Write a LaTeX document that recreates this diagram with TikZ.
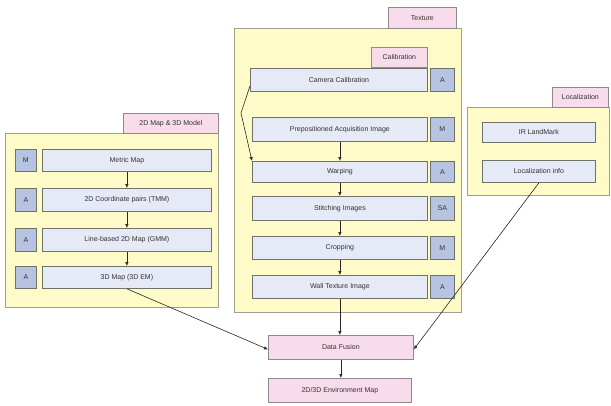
\documentclass[tikz,border=0pt]{standalone}
\usepackage{fontspec}
\setmainfont{Liberation Sans}
\usetikzlibrary{arrows.meta}
\definecolor{grp}{HTML}{FFFBC8}
\definecolor{grpline}{HTML}{A0A090}
\definecolor{ttl}{HTML}{F8DCEC}
\definecolor{ttlline}{HTML}{908890}
\definecolor{proc}{HTML}{E6EAF6}
\definecolor{procline}{HTML}{6E7268}
\definecolor{tag}{HTML}{B6C4E2}
\begin{document}
\begin{tikzpicture}[x=1pt,y=-1pt,
  font=\fontsize{7}{8}\selectfont,
  group/.style={draw=grpline,fill=grp,line width=0.9pt},
  titlebox/.style={draw=ttlline,fill=ttl,line width=0.8pt,anchor=north west,inner sep=0pt,align=center,text=black!80},
  procbox/.style={draw=procline,fill=proc,line width=0.8pt,anchor=north west,inner sep=0pt,align=center,text=black!80},
  tagbox/.style={draw=procline,fill=tag,line width=0.8pt,anchor=north west,inner sep=0pt,align=center,text=black!80},
  arr/.style={-{Latex[length=4pt,width=3.5pt]},line width=0.6pt,draw=black!85}]
\useasboundingbox (0,0) rectangle (611,405);
\fill[white] (0,0) rectangle (611,405);

% groups
\draw[group] (5,133) rectangle (218,307);
\draw[group] (234,28) rectangle (461,312);
\draw[group] (467,107) rectangle (609,195);

% titles
\node[titlebox,minimum width=95pt,minimum height=20pt] (t2d) at (123,113) {2D Map \& 3D Model};
\node[titlebox,minimum width=68pt,minimum height=21pt] (ttex) at (388,7) {Texture};
\node[titlebox,minimum width=56pt,minimum height=20pt] (tcal) at (371,47) {Calibration};
\node[titlebox,minimum width=56pt,minimum height=20pt] (tloc) at (552,87) {Localization};

% left group
\node[tagbox,minimum width=21pt,minimum height=22pt] (m1) at (15,149) {M};
\node[procbox,minimum width=169pt,minimum height=22pt] (metric) at (42,149) {Metric Map};
\node[tagbox,minimum width=21pt,minimum height=23pt] (m2) at (15,188) {A};
\node[procbox,minimum width=169pt,minimum height=23pt] (coord) at (42,188) {2D Coordinate pairs (TMM)};
\node[tagbox,minimum width=21pt,minimum height=23pt] (m3) at (15,228) {A};
\node[procbox,minimum width=169pt,minimum height=23pt] (line) at (42,228) {Line-based 2D Map (GMM)};
\node[tagbox,minimum width=21pt,minimum height=22pt] (m4) at (15,266) {A};
\node[procbox,minimum width=169pt,minimum height=22pt] (map3d) at (42,266) {3D Map (3D EM)};

% texture group
\node[procbox,minimum width=177pt,minimum height=23pt] (cam) at (250,68) {Camera Calibration};
\node[tagbox,minimum width=24pt,minimum height=23pt] (s1) at (430,68) {A};
\node[procbox,minimum width=175pt,minimum height=24pt] (prep) at (252,117) {Prepositioned Acquisition Image};
\node[tagbox,minimum width=24pt,minimum height=24pt] (s2) at (430,117) {M};
\node[procbox,minimum width=175pt,minimum height=21pt] (warp) at (252,161) {Warping};
\node[tagbox,minimum width=24pt,minimum height=21pt] (s3) at (430,161) {A};
\node[procbox,minimum width=175pt,minimum height=24pt] (stitch) at (252,196) {Stitching Images};
\node[tagbox,minimum width=24pt,minimum height=24pt] (s4) at (430,196) {SA};
\node[procbox,minimum width=175pt,minimum height=23pt] (crop) at (252,236) {Cropping};
\node[tagbox,minimum width=24pt,minimum height=23pt] (s5) at (430,236) {M};
\node[procbox,minimum width=175pt,minimum height=23pt] (wall) at (252,275) {Wall Texture Image};
\node[tagbox,minimum width=24pt,minimum height=23pt] (s6) at (430,275) {A};

% localization group
\node[procbox,minimum width=113pt,minimum height=20pt] (ir) at (482,122) {IR LandMark};
\node[procbox,minimum width=113pt,minimum height=22pt] (locinfo) at (482,160) {Localization info};

% bottom
\node[titlebox,minimum width=145pt,minimum height=24pt] (fusion) at (268,335) {Data Fusion};
\node[titlebox,minimum width=143pt,minimum height=24pt] (env) at (268,378) {2D/3D Environment Map};

% connectors
\draw[arr] (metric.south) -- (coord.north);
\draw[arr] (coord.south) -- (line.north);
\draw[arr] (line.south) -- (map3d.north);
\draw[arr] (prep.south) -- (warp.north);
\draw[arr] (warp.south) -- (stitch.north);
\draw[arr] (stitch.south) -- (crop.north);
\draw[arr] (crop.south) -- (wall.north);
\coordinate (bend) at (241,113);
\draw[arr] ([yshift=-6pt]cam.west) -- (bend) -- (warp.north west);
\draw[arr] (map3d.south) -- ([yshift=-2pt]fusion.west);
\draw[arr] (wall.south) -- (wall.south |- fusion.north);
\draw[arr] (locinfo.south) -- ([yshift=-2pt]fusion.east);
\draw[arr] (fusion.south) -- (fusion.south |- env.north);
\end{tikzpicture}
\end{document}
